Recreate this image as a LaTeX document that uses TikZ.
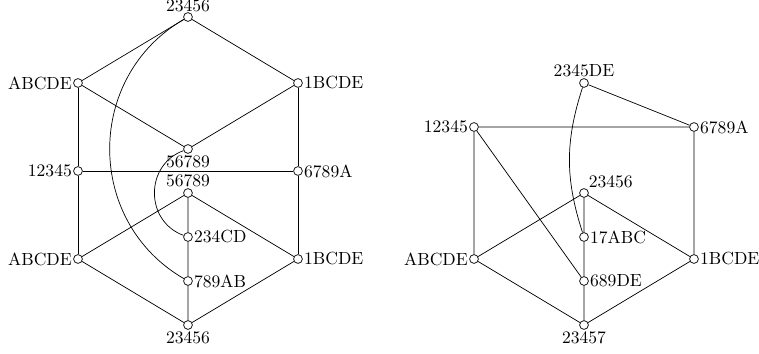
\documentclass[tikz,border=0pt]{standalone}
\usepackage{tikz}
\usetikzlibrary{positioning}

\begin{document}
\begin{tikzpicture}[x=0.44cm,y=0.44cm,
	v/.style={circle,draw,fill=white,inner sep=0pt,minimum size=5pt},
	every label/.style={inner sep=0.6pt}]
	\useasboundingbox (-8.545,-1.273) rectangle (25.955,14.773);
		\node[v,label={[label distance=-0.6pt]above:23456}] (t) at (0,14) {};
		\node[v,label=left:ABCDE] (au) at (-5,11) {};
		\node[v,label=right:1BCDE] (bu) at (5,11) {};
		\node[v,label=below:56789] (cu) at (0,8) {};
		\node[v,label=left:12345] (p) at (-5,7) {};
		\node[v,label=right:6789A] (q) at (5,7) {};
		\node[v,label=above:56789] (cl) at (0,6) {};
		\node[v,label=right:234CD] (d) at (0,4) {};
		\node[v,label=left:ABCDE] (al) at (-5,3) {};
		\node[v,label=right:1BCDE] (bl) at (5,3) {};
		\node[v,label=right:789AB] (e) at (0,2) {};
		\node[v,label=below:23456] (s) at (0,0) {};
	\draw (t)--(au) (t)--(bu) (au)--(cu) (bu)--(cu);
	\draw (au)--(p) (bu)--(q) (p)--(q) (p)--(al) (q)--(bl);
	\draw (cl)--(al) (cl)--(bl) (cl)--(d) (d)--(e) (e)--(s) (al)--(s) (bl)--(s);
	\draw (t) to[bend right=60,looseness=1.13] (e);
	\draw (cu) to[bend right=70,looseness=1.25] (d);
		\node[v,label=above:2345DE] (r1) at (18,11) {};
		\node[v,label=left:12345] (r2) at (13,9) {};
		\node[v,label=right:6789A] (r3) at (23,9) {};
		\node[v,label=above right:23456] (r4) at (18,6) {};
		\node[v,label=right:17ABC] (r5) at (18,4) {};
		\node[v,label=left:ABCDE] (r6) at (13,3) {};
		\node[v,label=right:1BCDE] (r7) at (23,3) {};
		\node[v,label=right:689DE] (r8) at (18,2) {};
		\node[v,label=below:23457] (r9) at (18,0) {};
	\draw (r1)--(r3) (r2)--(r3) (r2)--(r6) (r3)--(r7) (r2)--(r8);
	\draw (r4)--(r6) (r4)--(r7) (r4)--(r5) (r5)--(r8) (r8)--(r9) (r6)--(r9) (r7)--(r9);
	\draw (r1) to[bend right=18] (r5);
\end{tikzpicture}
\end{document}
